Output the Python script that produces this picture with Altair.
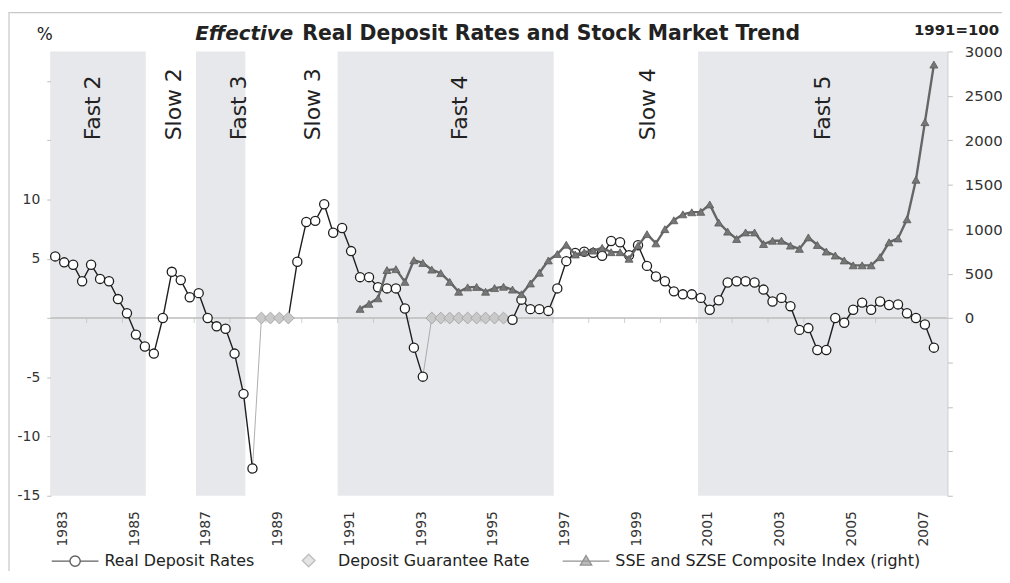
import altair as alt
import pandas as pd

# ---------------- data ----------------
FIRST_YEAR = 1983
N_SLOTS = 100  # quarterly category slots 1983Q1 .. 2007Q4

# Real deposit rate (%), quarterly from 1983Q1; None where the deposit guarantee applied
REAL_RATE = [5.2, 4.7, 4.5, 3.1, 4.5, 3.3, 3.1, 1.6, 0.4, -1.4, -2.4, -3.0,
             0.0, 3.9, 3.2, 1.75, 2.1, 0.0, -0.7, -0.9, -3.0, -6.4, -12.7,
             None, None, None, None,
             4.75, 8.1, 8.2, 9.6, 7.2, 7.6, 5.65, 3.45, 3.45, 2.6, 2.5, 2.5, 0.8, -2.5, -4.95,
             None, None, None, None, None, None, None, None, None,
             -0.15, 1.55, 0.75, 0.75, 0.6, 2.5, 4.8, 5.5, 5.6, 5.5, 5.25, 6.5, 6.4, 5.3, 6.15, 4.4,
             3.5, 3.1, 2.25, 2.0, 2.0, 1.7, 0.7, 1.5, 3.0, 3.1, 3.1, 3.0, 2.4, 1.4, 1.7, 1.0,
             -1.0, -0.85, -2.7, -2.7, 0.0, -0.4, 0.7, 1.3, 0.7, 1.4, 1.1, 1.15, 0.4, 0.0, -0.55, -2.5]

GUARANTEE_QUARTERS = ["1988Q4", "1989Q1", "1989Q2", "1989Q3",
                      "1993Q3", "1993Q4", "1994Q1", "1994Q2", "1994Q3", "1994Q4",
                      "1995Q1", "1995Q2", "1995Q3"]
GUARANTEE_RATE = [0.0, 0.0, 0.0, 0.0, 0.0, 0.0, 0.0, 0.0, 0.0, 0.0, 0.0, 0.0, 0.0]

SSE_START = "1991Q3"
SSE_INDEX = [103, 160, 222, 540, 550, 407, 650, 620, 545, 505, 407, 296, 345, 350, 296,
             337, 352, 320, 268, 389, 510, 648, 720, 825, 715, 740, 759, 790, 741, 741,
             667, 815, 944, 840, 1000, 1100, 1167, 1190, 1195, 1278, 1074, 972, 889, 963,
             963, 833, 870, 870, 815, 778, 907, 822, 748, 704, 648, 593, 593, 593, 685,
             852, 896, 1111, 1556, 2204, 2852]

PHASE_NAMES = ["Fast 2", "Slow 2", "Fast 3", "Slow 3", "Fast 4", "Slow 4", "Fast 5"]
PHASE_START = [0.0, 10.6, 16.2, 21.7, 32.0, 56.1, 72.2]   # in quarters from 1983Q1
PHASE_END = [10.6, 16.2, 21.7, 32.0, 56.1, 72.2, 100.0]
PHASE_SHADED = [True, False, True, False, True, False, True]
PHASE_LABEL_AT = [4.7, 13.7, 21.0, 29.3, 45.6, 66.6, 86.1]

YEAR_TICKS = [4, 8, 12, 16, 20, 24, 28, 32, 36, 40, 44, 48, 52, 56, 60, 64, 68, 72, 76,
              80, 84, 88, 92, 96]
YEAR_LABEL_AT = [1.3, 9.3, 17.3, 25.3, 33.3, 41.3, 49.3, 57.3, 65.3, 73.3, 81.3, 89.3, 97.3]

SERIES = ["Real Deposit Rates", "Deposit Guarantee Rate",
          "SSE and SZSE Composite Index (right)"]

LEFT_TICKS = [-15, -10, -5, 0, 5, 10, 15, 20]
RIGHT_TICKS = [-2000, -1500, -1000, -500, 0, 500, 1000, 1500, 2000, 2500, 3000]

# ---------------- tables ----------------
def qindex(label):
    y, q = label.split("Q")
    return (int(y) - FIRST_YEAR) * 4 + int(q) - 1

guar_full = [None] * len(REAL_RATE)
for lab, v in zip(GUARANTEE_QUARTERS, GUARANTEE_RATE):
    guar_full[qindex(lab)] = v
eff = [r if r is not None else g for r, g in zip(REAL_RATE, guar_full)]

circles = pd.DataFrame([{"x": i + 0.5, "v": r} for i, r in enumerate(REAL_RATE) if r is not None])
diamonds = pd.DataFrame([{"x": qindex(l) + 0.5, "v": v} for l, v in zip(GUARANTEE_QUARTERS, GUARANTEE_RATE)])

rows = []
seg = 0
cur = None
for i in range(len(eff) - 1):
    style = "thin" if (REAL_RATE[i] is not None and REAL_RATE[i + 1] is None) else "main"
    if style != cur:
        seg += 1
        cur = style
        rows.append({"seg": seg, "style": style, "x": i + 0.5, "v": eff[i], "o": i})
    rows.append({"seg": seg, "style": style, "x": i + 1.5, "v": eff[i + 1], "o": i + 1})
segs = pd.DataFrame(rows)

s0 = qindex(SSE_START)
sse = pd.DataFrame({"x": [s0 + k + 0.5 for k in range(len(SSE_INDEX))], "v": SSE_INDEX})

phases = pd.DataFrame({"name": PHASE_NAMES, "start": PHASE_START, "end": PHASE_END,
                       "shaded": PHASE_SHADED, "lab": PHASE_LABEL_AT, "ly": [15.0] * 7})
ticks = pd.DataFrame({"x": YEAR_TICKS, "v": [0.0] * len(YEAR_TICKS)})
legend_df = pd.DataFrame({"series": SERIES, "x": [50.0] * 3, "v": [999.0] * 3})
one = pd.DataFrame({"a": [0], "v": [0.0]})

# ---------------- styling ----------------
FONT = "DejaVu Sans"
W, H = 902, 447
xs = alt.Scale(domain=[0, N_SLOTS], nice=False, zero=False)
yl = alt.Scale(domain=[-15, 22.5], nice=False, zero=False)
yr = alt.Scale(domain=[-2000, 3000], nice=False, zero=False)

x_axis = alt.Axis(values=YEAR_LABEL_AT, labelExpr="'' + (1983 + floor(datum.value / 4))",
                  labelAngle=270, domain=False, ticks=False, tickSize=0, labelPadding=15,
                  labelFont=FONT, labelFontSize=14, labelColor="#333", grid=False, title=None,
                  labelOverlap=False, labelFlush=False)
left_axis = alt.Axis(values=LEFT_TICKS,
                     labelExpr="(datum.value == 0 || datum.value > 10) ? '' : ('' + datum.value)",
                     domainColor="#bdbdbd", tickColor="#bdbdbd", tickSize=4, labelPadding=7,
                     labelFont=FONT, labelFontSize=14, labelColor="#333", grid=False, title=None,
                     labelOverlap=False, labelFlush=False)
right_axis = alt.Axis(values=RIGHT_TICKS, orient="right",
                      labelExpr="datum.value < 0 ? '' : ('' + datum.value)",
                      domainColor="#bdbdbd", tickColor="#bdbdbd", tickSize=5, labelPadding=12,
                      labelFont=FONT, labelFontSize=15, labelColor="#333", grid=False, title=None,
                      labelOverlap=False, labelFlush=False)

def X(f):
    return alt.X(f, type="quantitative", scale=xs, axis=x_axis)

def YL(f="v", axis=None):
    return alt.Y(f, type="quantitative", scale=yl, axis=axis)

# outer frame (only its top and left edges fall inside the picture, as in the reference)
border = alt.Chart(one).mark_rect(fill="white", fillOpacity=0, stroke="#c8c8c8",
                                  strokeWidth=1.2).encode(
    x=alt.value(-42), x2=alt.value(1100), y=alt.value(-39), y2=alt.value(700))

bands = alt.Chart(phases).transform_filter("datum.shaded").mark_rect(color="#e7e8eb").encode(
    x=X("start"), x2="end")

band_labels = alt.Chart(phases).mark_text(angle=270, align="left", baseline="middle",
                                          font=FONT, fontSize=22, color="#222").encode(
    x=X("lab"), y=YL("ly"), text="name:N")

zero = alt.Chart(one).mark_rule(color="#bdbdbd", strokeWidth=1.5).encode(y=YL("v"))

tick_marks = alt.Chart(ticks).mark_tick(orient="vertical", size=5, yOffset=2.5,
                                        color="#bdbdbd", thickness=1).encode(x=X("x"), y=YL())

main_line = alt.Chart(segs).transform_filter("datum.style == 'main'").mark_line(
    color="#1e1e1e", strokeWidth=1.4).encode(x=X("x"), y=YL(), detail="seg:N", order="o:Q")
thin_line = alt.Chart(segs).transform_filter("datum.style == 'thin'").mark_line(
    color="#9a9a9a", strokeWidth=0.8).encode(x=X("x"), y=YL(), detail="seg:N", order="o:Q")

diamond_pts = alt.Chart(diamonds).mark_point(shape="diamond", filled=True, fill="#c9c9c9",
                                             stroke="#a6a6a6", strokeWidth=1, size=140,
                                             opacity=1).encode(x=X("x"), y=YL())
circle_pts = alt.Chart(circles).mark_point(shape="circle", filled=True, fill="white",
                                           stroke="#1e1e1e", strokeWidth=1.3, size=85,
                                           opacity=1).encode(x=X("x"), y=YL("v", left_axis))

P_CIRCLE = ("M-1,0L-0.22,0M0.22,0L1,0M0.22,0A0.22,0.22,0,1,1,-0.22,0"
            "A0.22,0.22,0,1,1,0.22,0Z")
P_DIAMOND = "M0,-0.27L0.27,0L0,0.27L-0.27,0Z"
P_TRI = "M-1,0L1,0M0,-0.24L0.24,0.17L-0.24,0.17Z"
leg = alt.Legend(orient="none", legendX=0, legendY=487.5, direction="horizontal", title=None,
                 symbolSize=2209, symbolStrokeWidth=1.4, labelFont=FONT, labelFontSize=16,
                 labelColor="#222", labelOffset=5, columnPadding=30, labelLimit=0)
legend_layer = alt.Chart(legend_df).mark_point(clip=True, size=10).encode(
    x=X("x"), y=YL(),
    shape=alt.Shape("series:N", scale=alt.Scale(domain=SERIES, range=[P_CIRCLE, P_DIAMOND, P_TRI]),
                    legend=leg),
    fill=alt.Fill("series:N", scale=alt.Scale(domain=SERIES, range=["white", "#c9c9c9", "#777777"]),
                  legend=leg),
    stroke=alt.Stroke("series:N", scale=alt.Scale(domain=SERIES, range=["#1e1e1e", "#a6a6a6", "#666666"]),
                      legend=leg))

title_a = alt.Chart(one).mark_text(text="Effective", font=FONT, fontSize=20, fontWeight="bold",
                                   fontStyle="italic", align="right", baseline="alphabetic",
                                   color="#222").encode(x=alt.value(244), y=alt.value(-12))
title_b = alt.Chart(one).mark_text(text="Real Deposit Rates and Stock Market Trend", font=FONT,
                                   fontSize=20.5, fontWeight="bold", align="left",
                                   baseline="alphabetic", color="#222").encode(
    x=alt.value(253), y=alt.value(-12))
pct = alt.Chart(one).mark_text(text="%", font=FONT, fontSize=17, align="center",
                               baseline="alphabetic", color="#222").encode(
    x=alt.value(-6), y=alt.value(-12))
base_note = alt.Chart(one).mark_text(text="1991=100", font=FONT, fontSize=15, fontWeight="bold",
                                     align="right", baseline="alphabetic", color="#222").encode(
    x=alt.value(954), y=alt.value(-17))

sse_line = alt.Chart(sse).mark_line(color="#666666", strokeWidth=2.4).encode(
    x=X("x"), y=alt.Y("v:Q", scale=yr, axis=right_axis))
sse_pts = alt.Chart(sse).mark_point(shape="triangle-up", filled=True, fill="#767676",
                                    stroke="#5a5a5a", strokeWidth=0.8, size=65, opacity=1).encode(
    x=X("x"), y=alt.Y("v:Q", scale=yr, axis=None))

chart = alt.layer(border, bands, band_labels, zero, tick_marks, thin_line, main_line,
                  diamond_pts, circle_pts, sse_line, sse_pts, legend_layer,
                  title_a, title_b, pct, base_note).resolve_scale(y="independent").properties(
    width=W, height=H,
    autosize=alt.AutoSizeParams(type="none"),
    padding={"left": 43, "top": 42, "right": 55, "bottom": 74},
    background="white",
).configure_view(strokeWidth=0).configure_axis(grid=False)

chart.save("out.html", embed_options={"renderer": "svg", "actions": False})
